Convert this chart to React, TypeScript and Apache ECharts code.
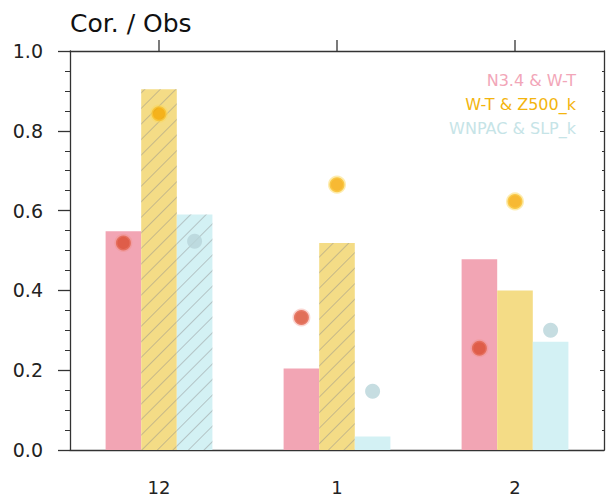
import React, { useEffect, useRef } from "react";
import * as echarts from "echarts";

const categories = ["12", "1", "2"];
const seriesNames = ["N3.4 & W-T", "W-T & Z500_k", "WNPAC & SLP_k"];
const barN34 = [0.548, 0.204, 0.478];
const barWT = [0.904, 0.519, 0.4];
const barWNPAC = [0.59, 0.034, 0.271];
const dotN34 = [0.519, 0.332, 0.255];
const dotWT = [0.843, 0.665, 0.623];
const dotWNPAC = [0.523, 0.147, 0.3];
const yTicks = [0, 0.2, 0.4, 0.6, 0.8, 1.0];

const FONT = "DejaVu Sans";
const barColors = ["#f2a5b4", "#f4dc86", "#d3f1f4"];
const dotColors = ["#d94b2e", "#f5a800", "#b8d5d9"];
const haloColors = ["rgba(240,140,130,0.45)", "rgba(250,215,90,0.6)", "rgba(0,0,0,0)"];
const legendColors = ["#f2a6b8", "#f3b40e", "#c6e4e7"];
// which bars are hatched: [seriesIndex][categoryIndex]
const hatched = [
  [false, false, false],
  [true, true, false],
  [true, false, false],
];

const hatchDecal = {
  symbol: "rect",
  symbolSize: 1,
  color: "rgba(140,140,140,0.45)",
  dashArrayX: [1, 0],
  dashArrayY: [1, 10],
  rotation: -Math.PI / 4,
};

export default function App() {
  const ref = useRef<HTMLDivElement>(null);
  useEffect(() => {
    if (!ref.current) return;
    const chart = echarts.init(ref.current, null, { renderer: "svg" });
    const barData = [barN34, barWT, barWNPAC];
    const dotData = [dotN34, dotWT, dotWNPAC];
    const catGap = 0.4;
    const barW = (1 - catGap) / 3;
    const axisColor = "#333";
    const yMax = yTicks[yTicks.length - 1];
    // top value axis positions: category i sits at i + 1
    const catPos = categories.map((_, i) => i + 1);

    const barSeries = barData.map((vals, s) => ({
      type: "bar",
      name: seriesNames[s],
      xAxisIndex: 0,
      yAxisIndex: 0,
      barGap: "0%",
      barCategoryGap: catGap * 100 + "%",
      z: 2,
      data: vals.map((v, i) => ({
        value: v,
        itemStyle: {
          color: barColors[s],
          decal: hatched[s][i] ? hatchDecal : undefined,
        },
      })),
    }));

    const dotSeries = dotData.map((vals, s) => ({
      type: "scatter",
      name: seriesNames[s] + " obs",
      xAxisIndex: 1,
      yAxisIndex: 0,
      z: 5,
      symbolSize: 15,
      itemStyle: {
        color: dotColors[s],
        borderColor: haloColors[s],
        borderWidth: 3,
      },
      data: vals.map((v, i) => [catPos[i] + (s - 1) * barW, v]),
    }));

    // outward ticks on the top frame at each category centre
    const topTicks = {
      type: "custom",
      name: "top ticks",
      xAxisIndex: 1,
      yAxisIndex: 0,
      clip: false,
      silent: true,
      z: 6,
      data: catPos.map((p) => [p, yMax]),
      renderItem: (_params: any, api: any) => {
        const pt = api.coord([api.value(0), api.value(1)]);
        return {
          type: "line",
          shape: { x1: pt[0], y1: pt[1], x2: pt[0], y2: pt[1] - 11 },
          style: { stroke: axisColor, lineWidth: 1.3 },
        };
      },
    };

    const lineStyle = { color: axisColor, width: 1.3 };

    chart.setOption({
      animation: false,
      grid: { left: 70, right: 2, top: 51, bottom: 45, containLabel: false },
      xAxis: [
        {
          type: "category",
          data: categories,
          position: "bottom",
          axisLine: { onZero: false, lineStyle },
          axisTick: { alignWithLabel: true, interval: 0, inside: false, length: 11, lineStyle },
          axisLabel: { interval: 0, color: "#222", fontFamily: FONT, fontSize: 18, margin: 28 },
          splitLine: { show: false },
        },
        {
          type: "value",
          min: 0.5,
          max: categories.length + 0.5,
          position: "top",
          axisLine: { show: true, onZero: false, lineStyle },
          axisTick: { show: false },
          axisLabel: { show: false },
          splitLine: { show: false },
        },
      ],
      yAxis: [
        {
          type: "value",
          min: yTicks[0],
          max: yMax,
          interval: 0.2,
          position: "left",
          axisLine: { show: true, onZero: false, lineStyle },
          axisTick: { show: true, length: 12, lineStyle },
          minorTick: { show: true, splitNumber: 4, length: 5, lineStyle: { color: axisColor, width: 1 } },
          axisLabel: {
            color: "#222",
            fontFamily: FONT,
            fontSize: 19,
            margin: 27,
            formatter: (v: number) => v.toFixed(1),
          },
          splitLine: { show: false },
        },
        {
          type: "value",
          min: yTicks[0],
          max: yMax,
          interval: 0.2,
          position: "right",
          axisLine: { show: true, onZero: false, lineStyle },
          axisTick: { show: true, inside: true, length: 4, lineStyle: { color: axisColor, width: 1 } },
          minorTick: { show: true, splitNumber: 4, length: 2, lineStyle: { color: axisColor, width: 1 } },
          axisLabel: { show: false },
          splitLine: { show: false },
        },
      ],
      graphic: [
        {
          type: "text",
          left: 70,
          top: 11,
          style: { text: "Cor. / Obs", fontFamily: FONT, fontSize: 25, fill: "#111" },
        },
        ...seriesNames.map((n, s) => ({
          type: "text",
          x: 576,
          y: 80 + s * 24,
          style: {
            text: n,
            fontFamily: FONT,
            fontSize: 16,
            fill: legendColors[s],
            textAlign: "right",
            textVerticalAlign: "middle",
          },
        })),
      ],
      series: [...barSeries, ...dotSeries, topTicks],
    });
    return () => chart.dispose();
  }, []);
  return (
    <div
      ref={ref}
      style={{ position: "fixed", left: 0, top: 0, width: 606, height: 496, background: "#fff" }}
    />
  );
}
